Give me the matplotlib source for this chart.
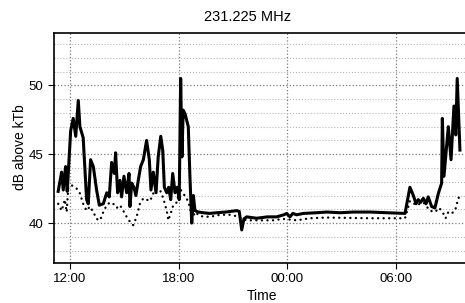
import matplotlib
matplotlib.use("Agg")
import matplotlib.pyplot as plt
from matplotlib.ticker import MultipleLocator

plt.rcParams['font.family'] = ['Liberation Sans', 'DejaVu Sans']

# hours after midnight of the first day (24 = 00:00 next day)
peak_time = [11.35, 11.54, 11.63, 11.76, 11.85, 12.04, 12.18, 12.32, 12.46, 12.55,
             12.73, 12.92, 13.01, 13.14, 13.29, 13.47, 13.62, 13.84, 14.03, 14.17,
             14.30, 14.45, 14.52, 14.63, 14.76, 14.85, 14.98, 15.13, 15.26, 15.31,
             15.41, 15.53, 15.64, 15.77, 15.90, 16.05, 16.23, 16.38, 16.47, 16.60,
             16.75, 16.87, 17.01, 17.12, 17.21, 17.34, 17.45, 17.56, 17.67, 17.80,
             17.92, 18.03, 18.11, 18.18, 18.25, 18.36, 18.53, 18.62, 18.72, 18.81,
             18.90, 19.08, 19.36, 19.70, 20.10, 20.60, 21.20, 21.34, 21.48, 21.60,
             21.75, 22.30, 22.90, 23.41, 23.80, 23.96, 24.14, 24.30, 24.51, 24.88,
             25.62, 26.17, 26.90, 27.64, 28.56, 29.50, 30.49, 30.76, 30.95, 31.10,
             31.22, 31.35, 31.50, 31.65, 31.77, 31.96, 32.14, 32.33, 32.51, 32.55,
             32.64, 32.88, 33.03, 33.19, 33.29, 33.37, 33.52]
peak_db = [42.3, 43.7, 42.4, 44.1, 42.3, 46.7, 47.6, 46.3, 48.9, 47.0,
           46.2, 41.7, 41.4, 44.6, 44.1, 42.4, 41.3, 41.4, 42.2, 41.9,
           44.4, 43.6, 45.1, 42.2, 43.1, 41.9, 43.4, 42.2, 43.6, 41.2,
           42.9, 42.6, 42.0, 43.1, 44.1, 44.6, 46.0, 44.6, 42.4, 43.7,
           42.2, 44.8, 46.3, 45.3, 42.6, 42.2, 42.6, 41.7, 43.6, 42.2,
           42.6, 41.7, 50.5, 44.8, 48.2, 47.9, 47.0, 43.4, 40.0, 42.0,
           40.9, 40.8, 40.75, 40.7, 40.75, 40.8, 40.9, 40.85, 39.5, 40.3,
           40.45, 40.35, 40.45, 40.45, 40.6, 40.7, 40.45, 40.7, 40.6, 40.7,
           40.75, 40.8, 40.75, 40.8, 40.8, 40.75, 40.7, 42.6, 42.0, 41.4,
           41.7, 41.5, 41.8, 41.4, 41.9, 41.2, 41.1, 42.15, 42.9, 47.6,
           43.4, 47.0, 44.6, 48.5, 46.4, 50.5, 45.3]

mean_time = [11.35, 11.54, 11.72, 11.82, 11.91, 12.09, 12.37, 12.55, 12.73, 12.92,
             13.10, 13.29, 13.47, 13.66, 13.84, 14.03, 14.21, 14.39, 14.58, 14.76,
             14.94, 15.13, 15.31, 15.49, 15.68, 15.86, 16.05, 16.23, 16.42, 16.60,
             16.78, 16.97, 17.15, 17.34, 17.43, 17.61, 17.70, 17.89, 18.07, 18.25,
             18.44, 18.62, 18.72, 18.90, 19.17, 19.73, 20.28, 20.83, 21.20, 21.75,
             22.30, 23.20, 23.76, 24.51, 25.25, 26.17, 28.56, 30.49, 30.76, 31.13,
             31.50, 31.87, 32.14, 32.38, 32.60, 32.73, 32.88, 33.06, 33.25, 33.34,
             33.40, 33.52]
mean_db = [41.4, 40.9, 41.7, 40.8, 42.6, 42.75, 42.5, 42.15, 41.4, 40.9,
           41.2, 40.8, 40.3, 40.2, 40.8, 41.3, 41.5, 41.4, 41.1, 41.3,
           40.9, 40.45, 40.1, 39.85, 40.45, 41.4, 41.8, 41.7, 41.6, 42.15,
           42.5, 42.4, 41.8, 40.9, 40.2, 40.9, 41.3, 41.5, 42.5, 42.15,
           41.8, 41.2, 40.2, 40.8, 40.5, 40.45, 40.6, 40.6, 40.5, 40.2,
           40.2, 40.2, 40.3, 40.2, 40.35, 40.4, 40.35, 40.35, 41.6, 41.3,
           41.5, 40.9, 40.8, 41.1, 40.7, 40.35, 40.8, 40.7, 40.9, 41.3,
           41.7, 42.0]

tick_hours = [12, 18, 24, 30]
tick_labels = ["12:00", "18:00", "00:00", "06:00"]

fig = plt.figure(figsize=(4.65, 3.03), dpi=100)
ax = fig.add_axes([54 / 465, 1 - 263 / 303, 411 / 465, 230 / 303])

ax.plot(peak_time, peak_db, color="black", lw=2.2, solid_joinstyle="round")
ax.plot(mean_time, mean_db, color="black", lw=1.7, linestyle=(0, (0.05, 2.3)),
        dash_capstyle="round")

ax.set_xlim(11.12, 33.8)
ax.set_ylim(37.1, 53.8)
ax.set_xticks(tick_hours)
ax.set_xticklabels(tick_labels)
ax.set_yticks([40, 45, 50])
ax.yaxis.set_minor_locator(MultipleLocator(1))

ax.grid(True, which="major", color="#7a7a7a", linestyle=":", linewidth=0.9)
ax.grid(True, which="minor", axis="y", color="#b8b8b8", linestyle=":", linewidth=0.8)
ax.set_axisbelow(True)

ax.tick_params(axis="both", which="major", labelsize=9.5, length=4, width=0.8,
               direction="out", pad=3.5)
ax.tick_params(axis="y", which="minor", length=0)
ax.spines["right"].set_visible(False)
for s in ["left", "top", "bottom"]:
    ax.spines[s].set_linewidth(1.2)

fig.text(247.5 / 465, 1 - 17 / 303, "231.225 MHz", ha="center", va="center", fontsize=10.5)
fig.text(262 / 465, 1 - 296.5 / 303, "Time", ha="center", va="center", fontsize=10)
fig.text(20 / 465, 1 - 147.5 / 303, "dB above kTb", ha="center", va="center",
         rotation=90, fontsize=10)

fig.savefig("out.png", dpi=100)
